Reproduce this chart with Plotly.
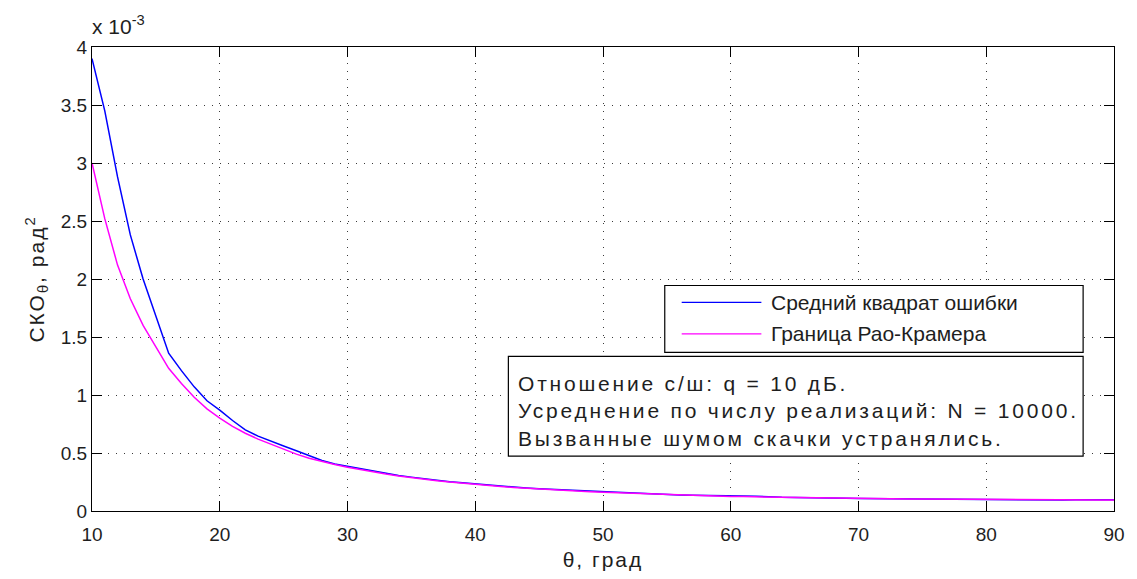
import plotly.graph_objects as go

# Angle of arrival, degrees
theta = list(range(10, 91))

# Mean squared error of the estimate, rad^2 (x 1e-3)
mse = [3.90, 3.45, 2.88, 2.38, 2.00, 1.68, 1.36, 1.21, 1.07, 0.95,
       0.87, 0.78, 0.70, 0.645, 0.60, 0.56, 0.52, 0.475, 0.435, 0.405,
       0.385, 0.360, 0.340, 0.322, 0.306, 0.292, 0.277, 0.265, 0.253, 0.243,
       0.233, 0.222, 0.213, 0.205, 0.198, 0.191, 0.186, 0.179, 0.173, 0.168,
       0.163, 0.158, 0.154, 0.150, 0.146, 0.142, 0.139, 0.136, 0.133, 0.130,
       0.131, 0.130, 0.128, 0.120, 0.118, 0.116, 0.113, 0.112, 0.111, 0.110,
       0.108, 0.107, 0.106, 0.105, 0.104, 0.103, 0.102, 0.101, 0.098, 0.097,
       0.096, 0.096, 0.095, 0.094, 0.094, 0.094, 0.095, 0.096, 0.096, 0.096,
       0.096]

# Cramer-Rao bound, rad^2 (x 1e-3)
crb = [3.00, 2.52, 2.12, 1.83, 1.60, 1.41, 1.23, 1.10, 0.98, 0.88,
       0.80, 0.73, 0.67, 0.62, 0.575, 0.53, 0.49, 0.455, 0.425, 0.40,
       0.378, 0.356, 0.336, 0.318, 0.302, 0.287, 0.273, 0.261, 0.249, 0.238,
       0.228, 0.219, 0.211, 0.203, 0.196, 0.189, 0.183, 0.177, 0.171, 0.166,
       0.161, 0.157, 0.152, 0.148, 0.145, 0.141, 0.138, 0.135, 0.132, 0.129,
       0.126, 0.124, 0.122, 0.120, 0.118, 0.116, 0.114, 0.112, 0.111, 0.109,
       0.108, 0.107, 0.106, 0.105, 0.104, 0.103, 0.102, 0.101, 0.100, 0.099,
       0.098, 0.098, 0.097, 0.096, 0.096, 0.095, 0.095, 0.095, 0.094, 0.094,
       0.094]

x_ticks = [10, 20, 30, 40, 50, 60, 70, 80, 90]
y_ticks = [0, 0.5, 1, 1.5, 2, 2.5, 3, 3.5, 4]
y_labels = ["0", "0.5", "1", "1.5", "2", "2.5", "3", "3.5", "4"]

series_names = ["Средний квадрат ошибки", "Граница Рао-Крамера"]
series_colors = ["#0000FF", "#FF00FF"]
info_lines = ["Отношение с/ш: q = 10 дБ.",
              "Усреднение по числу реализаций: N = 10000.",
              "Вызванные шумом скачки устранялись."]

W, H = 1137, 579
ML, MR, MT, MB = 92, 19, 47, 67
FONT = "Liberation Sans, Arial, sans-serif"
INK = "#1e1e1e"


def px(x):
    return (x - ML) / (W - ML - MR)


def py(y):
    return (H - MB - y) / (H - MT - MB)


def spaced(text, gap):
    return '<span style="letter-spacing:%spx">%s</span>' % (gap, text)


fig = go.Figure()
for ys, name, color in zip([mse, crb], series_names, series_colors):
    fig.add_trace(go.Scatter(x=theta, y=ys, mode="lines", name=name,
                             line=dict(color=color, width=1.5),
                             showlegend=False))

axis_common = dict(
    showline=True, linecolor="black", linewidth=1, mirror="ticks",
    ticks="inside", ticklen=10, tickcolor="black", tickwidth=1,
    showgrid=True, gridcolor="#3a3a3a", gridwidth=1, griddash="1px,7px",
    zeroline=False, tickfont=dict(family=FONT, size=19, color=INK),
)

fig.update_layout(
    width=W, height=H,
    margin=dict(l=ML, r=MR, t=MT, b=MB),
    paper_bgcolor="white", plot_bgcolor="white",
    font=dict(family=FONT, size=21, color=INK),
    xaxis=dict(range=[10, 90], tickvals=x_ticks, **axis_common,
               ticklabelstandoff=6,
               title=dict(text=spaced("θ, град", 2), standoff=8,
                          font=dict(family=FONT, size=21, color=INK))),
    yaxis=dict(range=[0, 4], tickvals=y_ticks, ticktext=y_labels,
               **axis_common,
               title=dict(text=spaced("СКО<sub>θ</sub>, рад<sup>2</sup>", 2),
                          standoff=10,
                          font=dict(family=FONT, size=21, color=INK))),
)

# Exponent label above the y axis
fig.add_annotation(x=px(90), y=py(40), xref="paper", yref="paper",
                   xanchor="left", yanchor="bottom", showarrow=False,
                   text="x 10<sup>-3</sup>",
                   font=dict(family=FONT, size=21, color=INK))

# Legend box
fig.add_shape(type="rect", xref="paper", yref="paper", layer="above",
              x0=px(667), x1=px(1087), y0=py(286), y1=py(353),
              line=dict(color="black", width=1.2), fillcolor="white")
for i, (name, color) in enumerate(zip(series_names, series_colors)):
    yy = 303 + i * 31.5
    fig.add_shape(type="line", xref="paper", yref="paper", layer="above",
                  x0=px(684), x1=px(764), y0=py(yy), y1=py(yy),
                  line=dict(color=color, width=1.3))
    fig.add_annotation(x=px(772), y=py(yy), xref="paper", yref="paper",
                       xanchor="left", yanchor="middle", showarrow=False,
                       text=name, font=dict(family=FONT, size=21, color=INK))

# Simulation parameters box
fig.add_shape(type="rect", xref="paper", yref="paper", layer="above",
              x0=px(510), x1=px(1087), y0=py(357), y1=py(457),
              line=dict(color="black", width=1.2), fillcolor="white")
for i, line in enumerate(info_lines):
    fig.add_annotation(x=px(518), y=py(384 + i * 27.5), xref="paper",
                       yref="paper", xanchor="left", yanchor="middle",
                       showarrow=False, text=spaced(line, 2.8),
                       font=dict(family=FONT, size=21, color=INK))

fig.write_html("out.html")
